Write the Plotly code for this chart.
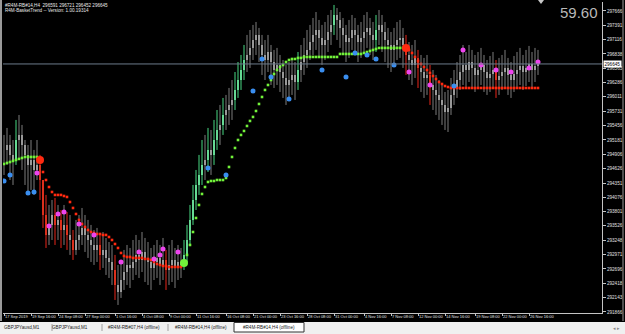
import plotly.graph_objects as go

# ---------------- data ----------------
close = [
    294988, 295084, 294892, 294795, 295180, 295277, 295084, 294892, 294699, 294795,
    294602, 294699, 294409, 293735, 293350, 293543, 293735, 293543, 293639, 293446,
    293543, 293350, 293253, 293061, 293253, 293350, 293485, 293350, 293253, 293157,
    293061, 293157, 292965, 293061, 292907, 292829, 292675, 292386, 292251, 292482,
    292636, 292772, 292714, 292829, 292965, 292868, 293022, 292907, 292829, 292714,
    292829, 292907, 292772, 292868, 292675, 292772, 292868, 292714, 292829, 292772,
    292965, 293253, 293639, 294024, 294313, 294506, 294699, 294795, 294988, 294892,
    295180, 295373, 295470, 295662, 295758, 295855, 295951, 296144, 296336, 296529,
    296722, 296818, 296954, 297107, 297204, 297011, 296818, 296722, 296876, 296683,
    296529, 296626, 296490, 296375, 296240, 296336, 296433, 296297, 296529, 296683,
    296818, 296915, 297068, 297204, 297300, 297146, 297011, 297107, 297261, 297397,
    297589, 297493, 297339, 297204, 297068, 297146, 297300, 297204, 297068, 297146,
    297261, 297339, 297204, 297107, 297300, 297397, 297261, 297107, 297011, 296915,
    297011, 297107, 297146, 297011, 296818, 296722, 296626, 296761, 296568, 296490,
    296375, 296433, 296240, 296144, 296048, 295951, 295855, 295719, 295797, 296048,
    296182, 296336, 296490, 296626, 296529, 296683, 296568, 296433, 296529, 296626,
    296490, 296375, 296452, 296529, 296336, 296413, 296490, 296568, 296433, 296336,
    296452, 296529, 296606, 296490, 296568, 296645, 296529, 296606, 296645]
high = [
    295277, 295412, 295277, 295180, 295566, 295662, 295470, 295180, 295084, 295180,
    294988, 295180, 294892, 294409, 294121, 293928, 294024, 294063, 293928, 293831,
    293928, 293792, 293735, 293446, 293639, 293735, 293870, 293735, 293639, 293543,
    293446, 293485, 293350, 293407, 293292, 293214, 293157, 292965, 292772, 292868,
    293061, 293157, 293099, 293253, 293350, 293253, 293407, 293292, 293214, 293099,
    293157, 293253, 293157, 293292, 293061, 293157, 293253, 293099, 293157, 293099,
    293253, 293543, 293928, 294313, 294602, 294892, 295180, 295277, 295412, 295373,
    295566, 295758, 295855, 295990, 296048, 296183, 296336, 296490, 296683, 296818,
    297011, 297204, 297300, 297397, 297454, 297339, 297204, 297107, 297204, 297011,
    296915, 296954, 296818, 296722, 296626, 296683, 296761, 296683, 296876, 297011,
    297146, 297300, 297397, 297531, 297646, 297493, 297397, 297454, 297589, 297685,
    297782, 297724, 297646, 297531, 297397, 297493, 297589, 297531, 297397, 297454,
    297589, 297646, 297531, 297454, 297589, 297685, 297589, 297454, 297339, 297261,
    297339, 297454, 297493, 297339, 297204, 297068, 297011, 297107, 296915, 296818,
    296761, 296818, 296626, 296529, 296433, 296336, 296240, 296105, 296144, 296375,
    296529, 296683, 296818, 297011, 296876, 297011, 296915, 296818, 296876, 296954,
    296818, 296722, 296799, 296876, 296722, 296761, 296818, 296915, 296761, 296683,
    296799, 296876, 296954, 296818, 296915, 296992, 296876, 296954, 296915]
low = [
    294506, 294699, 294409, 294313, 294699, 294795, 294602, 294313, 294121, 294217,
    294121, 294409, 294024, 293485, 293099, 293157, 293253, 293157, 293253, 293099,
    293157, 293061, 292965, 292868, 292965, 293061, 293157, 293022, 292907, 292829,
    292772, 292829, 292675, 292714, 292579, 292521, 292386, 292097, 292001, 292136,
    292290, 292386, 292328, 292482, 292579, 292521, 292636, 292443, 292386, 292290,
    292482, 292521, 292386, 292482, 292290, 292386, 292443, 292328, 292482, 292521,
    292675, 292829, 293157, 293543, 293831, 294121, 294313, 294409, 294563, 294506,
    294699, 294988, 295084, 295277, 295373, 295470, 295566, 295758, 295990, 296144,
    296336, 296490, 296568, 296722, 296818, 296683, 296433, 296336, 296490, 296240,
    296182, 296240, 296105, 295990, 295855, 295951, 296048, 295951, 296144, 296297,
    296433, 296568, 296722, 296818, 296915, 296761, 296626, 296722, 296876, 297011,
    297204, 297107, 296954, 296818, 296683, 296761, 296915, 296818, 296683, 296761,
    296876, 296954, 296818, 296722, 296876, 297011, 296876, 296683, 296568, 296490,
    296626, 296722, 296761, 296568, 296433, 296336, 296240, 296375, 296182, 296105,
    295990, 296048, 295855, 295758, 295662, 295566, 295470, 295373, 295334, 295662,
    295855, 295990, 296144, 296240, 296182, 296297, 296182, 296105, 296182, 296240,
    296105, 296048, 296105, 296182, 295990, 296048, 296144, 296182, 296048, 295990,
    296105, 296182, 296240, 296144, 296221, 296297, 296182, 296297, 296433]
trend = [
    294718, 294737, 294756, 294776, 294795, 294815, 294834, 294853, 294853, 294853,
    294853, 294853,
    294795, 294563, 294409, 294274, 294178, 294121, 294121, 294121, 294101, 294082,
    293985, 293870, 293754, 293639, 293562, 293504, 293446, 293407, 293388, 293369,
    293369, 293350, 293350, 293311, 293253, 293176, 293099, 293003, 292945, 292926,
    292926, 292907, 292907, 292907, 292907, 292888, 292888, 292868, 292829, 292791,
    292772, 292752, 292752, 292733, 292733, 292733, 292733, 292733,
    292810, 292965, 293157, 293407, 293677, 293928, 294140, 294274, 294371, 294390,
    294390, 294409, 294409, 294409, 294448, 294660, 294853, 295026, 295180, 295277,
    295354, 295450, 295547, 295624, 295739, 295874, 296009, 296144, 296240, 296336,
    296452, 296529, 296587, 296625, 296683, 296722, 296741, 296741, 296761, 296761,
    296780, 296780, 296780, 296780, 296780, 296780, 296780, 296780, 296780, 296780,
    296780, 296780, 296838, 296838, 296838, 296838, 296838, 296838, 296838, 296838,
    296857, 296876, 296896, 296915, 296934, 296954, 296954, 296954, 296954, 296954,
    296954, 296954, 296954, 296954,
    296954, 296915, 296857, 296780, 296703, 296645, 296587, 296529, 296471, 296413,
    296355, 296297, 296259, 296220, 296201, 296182, 296182, 296182, 296182, 296182,
    296182, 296182, 296182, 296182, 296182, 296182, 296182, 296182, 296182, 296182,
    296182, 296182, 296182, 296182, 296182, 296182, 296182, 296182, 296182, 296182,
    296182, 296182, 296182, 296182, 296182]
flip_bars = [12, 60, 134]          # bars where the basket trend changes direction

blue_bars = [0, 2, 8, 10, 68, 74, 83, 86, 89, 95, 106, 114, 117, 121, 124, 130, 150]
blue_vals = [294390, 294506, 294159, 294178, 294641, 294506, 296125, 296741, 296394,
             295971, 296529, 296394, 296857, 296818, 296741, 296625, 296221]
magenta_bars = [11, 15, 18, 20, 25, 30, 39, 45, 50, 52, 53, 58,
                135, 142, 153, 159, 164, 169, 175, 178]
magenta_vals = [294544, 293523, 293754, 293792, 293562, 293350, 292829, 293022, 292888,
                292965, 293080, 293022, 296490, 296240, 296915, 296625, 296529, 296490,
                296568, 296683]

tick_bars = [0, 9, 18, 27, 37, 46, 55, 64, 74, 83, 92, 101, 110, 120, 129, 138, 147, 157, 166, 175]
tick_labels = ["17 Sep 2019", "19 Sep 16:00", "24 Sep 08:00", "27 Sep 00:00", "1 Oct 16:00",
               "4 Oct 08:00", "9 Oct 00:00", "11 Oct 16:00", "16 Oct 08:00", "21 Oct 00:00",
               "23 Oct 16:00", "28 Oct 08:00", "31 Oct 00:00", "4 Nov 16:00", "7 Nov 08:00",
               "12 Nov 00:00", "14 Nov 16:00", "19 Nov 08:00", "22 Nov 00:00", "26 Nov 16:00"]
price_ticks = [297666, 297391, 297116, 296838, 296563, 296286, 296011, 295731, 295456, 295181,
               294906, 294626, 294351, 294076, 293801, 293526, 293248, 292971, 292696, 292418,
               292143, 291866]

header1 = "#R4M-RB#14,H4  296591 296721 296452 296645"
header2 = "R4M-BasketTrend -- Version: 1.00.19314"
corner_value = "59.60"
tabs = ["GBPJPYausd,M1", "GBPJPYausd,M1", "#R4M-RB#07,H4 (offline)",
        "#R4M-RB#14,H4 (offline)", "#R4M-RB#14,H4 (offline)"]

# ---------------- derived ----------------
n = len(close)
open_ = [close[0]] + close[:-1]
state = []
s = "up"
for i in range(n):
    if i in flip_bars:
        s = "down" if s == "up" else "up"
    state.append(s)

groups = {"neutral": ([], []), "green": ([], []), "red": ([], [])}
bodies = {"neutral": ([], []), "green": ([], []), "red": ([], [])}
for i in range(n):
    d = close[i] - open_[i]
    if state[i] == "up" and d >= 190:
        g = "green"
    elif state[i] == "down" and -d >= 190:
        g = "red"
    else:
        g = "neutral"
    groups[g][0].extend([i, i, None])
    groups[g][1].extend([low[i], high[i], None])
    bodies[g][0].extend([i, i, None])
    bodies[g][1].extend([open_[i], close[i], None])

FONT = "Liberation Sans, Arial, sans-serif"
fig = go.Figure()

wick_col = {"neutral": "#7c7c7c", "green": "#49d983", "red": "#e8261a"}
body_col = {"neutral": "#b8b8b8", "green": "#7dffb0", "red": "#ff3b22"}
for g in ["neutral", "green", "red"]:
    fig.add_trace(go.Scatter(x=groups[g][0], y=groups[g][1], mode="lines",
                             line=dict(color=wick_col[g], width=1), hoverinfo="skip"))
    fig.add_trace(go.Scatter(x=bodies[g][0], y=bodies[g][1], mode="lines",
                             line=dict(color=body_col[g], width=1.5), hoverinfo="skip"))

# basket trend dotted line
up_x = [i for i in range(n) if state[i] == "up"]
dn_x = [i for i in range(n) if state[i] == "down"]
fig.add_trace(go.Scatter(x=up_x, y=[trend[i] for i in up_x], mode="markers",
                         marker=dict(symbol="square", size=2.6, color="#72f23a", line=dict(width=0))))
fig.add_trace(go.Scatter(x=dn_x, y=[trend[i] for i in dn_x], mode="markers",
                         marker=dict(symbol="square", size=2.6, color="#ff2a10", line=dict(width=0))))

# signal dots
fig.add_trace(go.Scatter(x=blue_bars, y=blue_vals, mode="markers",
                         marker=dict(size=5, color="#3a8ef0", line=dict(width=0))))
fig.add_trace(go.Scatter(x=magenta_bars, y=magenta_vals, mode="markers",
                         marker=dict(size=5, color="#ee44ee", line=dict(width=0))))
fig.add_trace(go.Scatter(x=flip_bars, y=[trend[i] for i in flip_bars], mode="markers",
                         marker=dict(size=8, color=["#72f23a" if state[i] == "up" else "#ff2a10"
                                                    for i in flip_bars], line=dict(width=0))))

ax_col = "#c4c4c4"
fig.update_layout(
    width=625, height=334,
    margin=dict(l=3, r=23, t=2, b=21),
    paper_bgcolor="black", plot_bgcolor="black",
    showlegend=False,
    xaxis=dict(range=[-1 / 3, -1 / 3 + 599 / 3], showgrid=False, zeroline=False,
               showline=True, linecolor=ax_col, linewidth=1,
               ticks="outside", ticklen=2, tickcolor=ax_col,
               tickvals=tick_bars, ticktext=tick_labels, tickangle=0,
               ticklabelposition="outside right", ticklabelstandoff=-1,
               tickfont=dict(family=FONT, size=4.0, color="#e0e0e0")),
    yaxis=dict(range=[291846, 297839], side="right", showgrid=False, zeroline=False,
               showline=True, linecolor=ax_col, linewidth=1,
               ticks="outside", ticklen=3, tickcolor=ax_col,
               tickvals=price_ticks, ticktext=[str(v) for v in price_ticks],
               tickfont=dict(family=FONT, size=4.6, color="#e0e0e0")),
)

# current price line + box
fig.add_shape(type="line", xref="paper", x0=0, x1=1, yref="y", y0=close[-1], y1=close[-1],
              line=dict(color="#6c7b8b", width=1))
fig.add_annotation(xref="paper", x=1, xanchor="left", xshift=1, yref="y", y=close[-1],
                   text=str(close[-1]), showarrow=False, bgcolor="white", borderpad=0.5,
                   font=dict(family=FONT, size=4.6, color="black"))

def px(X):
    return (X - 3) / 599

def py(Y):
    return (313 - Y) / 311

# header texts
fig.add_annotation(xref="paper", yref="paper", x=px(3), y=py(5), xanchor="left", yanchor="middle",
                   text=header1, showarrow=False, font=dict(family=FONT, size=4.6, color="#e8e8e8"))
fig.add_annotation(xref="paper", yref="paper", x=px(3), y=py(10.5), xanchor="left", yanchor="middle",
                   text=header2, showarrow=False, font=dict(family=FONT, size=4.6, color="#e8e8e8"))
fig.add_annotation(xref="paper", yref="paper", x=px(600), y=py(12.5), xanchor="right", yanchor="middle",
                   text=corner_value, showarrow=False, font=dict(family=FONT, size=15, color="#b8b8b8"))

# chart-shift marker
fig.add_shape(type="path", xref="paper", yref="paper",
              path=f"M {px(538)},{py(0)} L {px(544)},{py(0)} L {px(541)},{py(4)} Z",
              fillcolor="#c8c8c8", line=dict(width=0))

# window borders
fig.add_shape(type="line", xref="paper", yref="paper", x0=px(1), x1=px(1), y0=py(0), y1=py(321),
              line=dict(color="#9a9a9a", width=2))
fig.add_shape(type="line", xref="paper", yref="paper", x0=px(623), x1=px(623), y0=py(0), y1=py(321),
              line=dict(color="#9a9a9a", width=1))

# tab bar (drawn below the axes so the time labels stay visible)
fig.add_shape(type="rect", xref="paper", yref="paper", x0=px(0), x1=px(625), y0=py(334), y1=py(322),
              fillcolor="#f0f0f0", line=dict(width=0), layer="below")
fig.add_shape(type="rect", xref="paper", yref="paper", x0=px(234), x1=px(304), y0=py(332), y1=py(322.5),
              fillcolor="white", line=dict(color="#333333", width=1), layer="below")
for sx in [52, 102, 168]:
    fig.add_shape(type="line", xref="paper", yref="paper", x0=px(sx), x1=px(sx), y0=py(324), y1=py(331),
                  line=dict(color="#a0a0a0", width=1), layer="below")
for cx, t in zip([21.5, 70, 134, 201, 269], tabs):
    fig.add_annotation(xref="paper", yref="paper", x=px(cx), y=py(327.5), xanchor="center", yanchor="middle",
                       text=t, showarrow=False, font=dict(family=FONT, size=4.6, color="#222222"))
fig.add_annotation(xref="paper", yref="paper", x=px(616), y=py(327.5), xanchor="center", yanchor="middle",
                   text="\u25c2 \u25b8", showarrow=False, font=dict(family=FONT, size=5, color="#888888"))

fig.write_html("out.html")
